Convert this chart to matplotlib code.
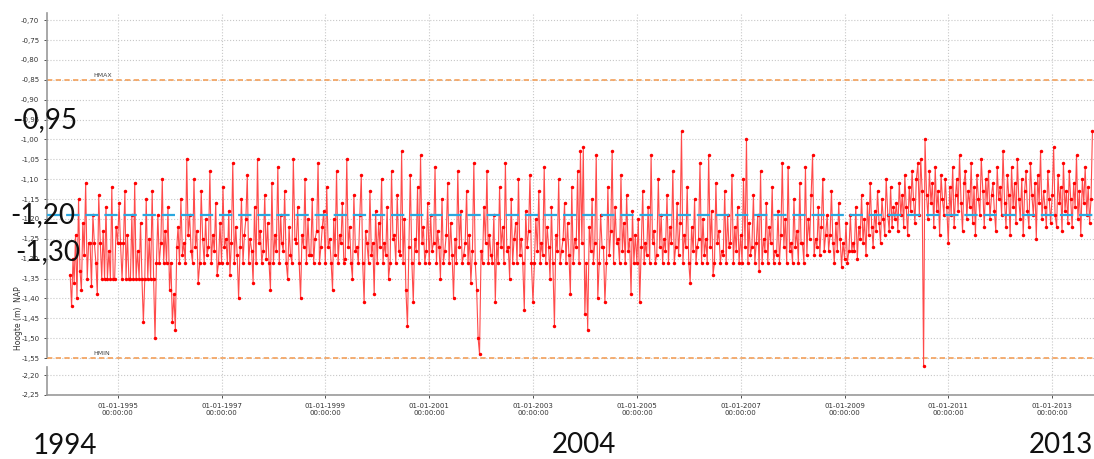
import numpy as np
import pandas as pd
import matplotlib
matplotlib.use("Agg")
import matplotlib.pyplot as plt

# waterstand (m NAP), op de 1e, 11e en 21e van elke maand, per jaar
h1994 = [-1.34, -1.42, -1.30, -1.36, -1.24, -1.40, -1.15, -1.33, -1.38, -1.21, -1.29, -1.11,
         -1.35, -1.26, -1.26, -1.37, -1.19, -1.26, -1.31, -1.39, -1.14, -1.26, -1.35, -1.23,
         -1.35, -1.17, -1.35, -1.28, -1.35, -1.12, -1.35, -1.35, -1.22]
h1995 = [-1.26, -1.16, -1.26, -1.35, -1.26, -1.13, -1.35, -1.24, -1.35, -1.35, -1.19, -1.35,
         -1.11, -1.35, -1.28, -1.35, -1.21, -1.35, -1.46, -1.35, -1.15, -1.35, -1.25, -1.35,
         -1.13, -1.35, -1.50, -1.31, -1.19, -1.31, -1.26, -1.10, -1.31, -1.23, -1.31, -1.17]
h1996 = [-1.38, -1.31, -1.46, -1.39, -1.48, -1.27, -1.22, -1.31, -1.15, -1.29, -1.26, -1.31,
         -1.05, -1.24, -1.19, -1.28, -1.31, -1.10, -1.27, -1.23, -1.36, -1.31, -1.13, -1.25,
         -1.31, -1.20, -1.29, -1.27, -1.08, -1.31, -1.24, -1.28, -1.16, -1.34, -1.31, -1.21]
h1997 = [-1.31, -1.12, -1.27, -1.25, -1.31, -1.18, -1.34, -1.26, -1.06, -1.31, -1.22, -1.29,
         -1.40, -1.27, -1.15, -1.31, -1.24, -1.20, -1.09, -1.31, -1.25, -1.28, -1.36, -1.17,
         -1.31, -1.05, -1.26, -1.23, -1.31, -1.28, -1.14, -1.30, -1.21, -1.31, -1.38, -1.11]
h1998 = [-1.31, -1.24, -1.28, -1.07, -1.31, -1.19, -1.26, -1.28, -1.13, -1.31, -1.35, -1.22,
         -1.29, -1.31, -1.05, -1.25, -1.26, -1.17, -1.31, -1.40, -1.24, -1.27, -1.10, -1.31,
         -1.20, -1.29, -1.29, -1.15, -1.31, -1.25, -1.23, -1.06, -1.31, -1.27, -1.22, -1.18]
h1999 = [-1.31, -1.12, -1.27, -1.25, -1.31, -1.38, -1.20, -1.29, -1.08, -1.31, -1.24, -1.26,
         -1.16, -1.31, -1.30, -1.05, -1.27, -1.22, -1.31, -1.35, -1.14, -1.28, -1.27, -1.31,
         -1.19, -1.09, -1.31, -1.41, -1.23, -1.26, -1.31, -1.13, -1.29, -1.26, -1.39, -1.18]
h2000 = [-1.31, -1.21, -1.27, -1.10, -1.31, -1.26, -1.29, -1.17, -1.35, -1.31, -1.08, -1.25,
         -1.24, -1.31, -1.14, -1.28, -1.29, -1.03, -1.31, -1.20, -1.38, -1.47, -1.27, -1.09,
         -1.31, -1.41, -1.25, -1.28, -1.12, -1.31, -1.04, -1.26, -1.22, -1.31, -1.28, -1.16]
h2001 = [-1.31, -1.19, -1.28, -1.26, -1.07, -1.31, -1.23, -1.27, -1.35, -1.15, -1.31, -1.28,
         -1.24, -1.11, -1.31, -1.21, -1.29, -1.40, -1.25, -1.31, -1.08, -1.27, -1.18, -1.31,
         -1.29, -1.26, -1.13, -1.31, -1.24, -1.36, -1.28, -1.06, -1.31, -1.38, -1.50, -1.54]
h2002 = [-1.28, -1.31, -1.17, -1.26, -1.08, -1.31, -1.24, -1.29, -1.31, -1.19, -1.41, -1.26,
         -1.31, -1.12, -1.27, -1.22, -1.31, -1.06, -1.28, -1.27, -1.35, -1.15, -1.31, -1.25,
         -1.21, -1.31, -1.10, -1.29, -1.25, -1.31, -1.43, -1.18, -1.27, -1.23, -1.09, -1.31]
h2003 = [-1.41, -1.31, -1.20, -1.28, -1.13, -1.31, -1.26, -1.29, -1.07, -1.31, -1.22, -1.27,
         -1.35, -1.17, -1.31, -1.47, -1.24, -1.28, -1.10, -1.31, -1.28, -1.25, -1.16, -1.31,
         -1.21, -1.29, -1.39, -1.12, -1.31, -1.25, -1.27, -1.08, -1.31, -1.03, -1.26, -1.02]
h2004 = [-1.44, -1.31, -1.48, -1.22, -1.28, -1.15, -1.31, -1.26, -1.04, -1.40, -1.31, -1.19,
         -1.27, -1.27, -1.41, -1.31, -1.12, -1.29, -1.23, -1.03, -1.31, -1.17, -1.26, -1.25,
         -1.31, -1.09, -1.28, -1.21, -1.31, -1.14, -1.28, -1.25, -1.39, -1.18, -1.31, -1.24]
h2005 = [-1.31, -1.20, -1.41, -1.27, -1.13, -1.31, -1.26, -1.29, -1.17, -1.31, -1.04, -1.26,
         -1.23, -1.31, -1.29, -1.10, -1.27, -1.19, -1.31, -1.25, -1.28, -1.14, -1.31, -1.22,
         -1.26, -1.08, -1.31, -1.27, -1.16, -1.29, -1.21, -0.98, -1.31, -1.24, -1.27, -1.12]
h2006 = [-1.31, -1.36, -1.22, -1.28, -1.15, -1.31, -1.27, -1.25, -1.06, -1.31, -1.20, -1.29,
         -1.25, -1.31, -1.04, -1.27, -1.18, -1.34, -1.31, -1.11, -1.26, -1.23, -1.31, -1.28,
         -1.29, -1.13, -1.31, -1.19, -1.27, -1.26, -1.09, -1.31, -1.22, -1.28, -1.17, -1.31]
h2007 = [-1.24, -1.31, -1.10, -1.27, -1.00, -1.31, -1.21, -1.29, -1.27, -1.14, -1.31, -1.26,
         -1.19, -1.33, -1.08, -1.31, -1.25, -1.28, -1.16, -1.31, -1.22, -1.26, -1.12, -1.31,
         -1.28, -1.29, -1.18, -1.31, -1.24, -1.06, -1.27, -1.20, -1.31, -1.07, -1.28, -1.26]
h2008 = [-1.31, -1.15, -1.27, -1.23, -1.31, -1.11, -1.26, -1.26, -1.31, -1.07, -1.29, -1.20,
         -1.25, -1.14, -1.04, -1.29, -1.25, -1.27, -1.17, -1.29, -1.22, -1.10, -1.28, -1.24,
         -1.19, -1.28, -1.24, -1.13, -1.26, -1.31, -1.21, -1.28, -1.16, -1.25, -1.32, -1.26]
h2009 = [-1.30, -1.21, -1.31, -1.28, -1.19, -1.28, -1.26, -1.28, -1.17, -1.30, -1.22, -1.25,
         -1.14, -1.26, -1.20, -1.29, -1.16, -1.24, -1.11, -1.22, -1.27, -1.18, -1.23, -1.13,
         -1.21, -1.26, -1.15, -1.20, -1.24, -1.10, -1.19, -1.23, -1.12, -1.22, -1.17, -1.20]
h2010 = [-1.16, -1.23, -1.11, -1.19, -1.14, -1.22, -1.09, -1.17, -1.24, -1.12, -1.18, -1.08,
         -1.15, -1.21, -1.10, -1.06, -1.19, -1.05, -1.13, -1.85, -1.00, -1.14, -1.20, -1.08,
         -1.16, -1.11, -1.22, -1.07, -1.18, -1.13, -1.24, -1.09, -1.15, -1.19, -1.10, -1.17]
h2011 = [-1.26, -1.12, -1.19, -1.07, -1.22, -1.14, -1.10, -1.18, -1.04, -1.16, -1.23, -1.11,
         -1.08, -1.20, -1.13, -1.17, -1.06, -1.21, -1.12, -1.24, -1.09, -1.15, -1.19, -1.05,
         -1.13, -1.22, -1.10, -1.16, -1.08, -1.20, -1.14, -1.11, -1.18, -1.23, -1.07, -1.15]
h2012 = [-1.12, -1.19, -1.03, -1.16, -1.22, -1.09, -1.14, -1.24, -1.07, -1.17, -1.11, -1.21,
         -1.05, -1.15, -1.20, -1.10, -1.24, -1.13, -1.08, -1.18, -1.22, -1.06, -1.14, -1.19,
         -1.11, -1.25, -1.09, -1.16, -1.03, -1.20, -1.13, -1.17, -1.22, -1.08, -1.15, -1.21]
h2013 = [-1.14, -1.02, -1.19, -1.22, -1.09, -1.16, -1.12, -1.23, -1.06, -1.18, -1.13, -1.21,
         -1.08, -1.15, -1.22, -1.11, -1.17, -1.04, -1.20, -1.13, -1.24, -1.10, -1.16, -1.07,
         -1.19, -1.12, -1.21, -1.15, -0.98]

hmax = -0.85
hmin = -1.55
streef = -1.19
yticks = [-0.70, -0.75, -0.80, -0.85, -0.90, -0.95, -1.00, -1.05, -1.10, -1.15, -1.20,
          -1.25, -1.30, -1.35, -1.40, -1.45, -1.50, -1.55, -2.20, -2.25]
xtick_years = [1995, 1997, 1999, 2001, 2003, 2005, 2007, 2009, 2011, 2013]
big_labels = ['-0,95', '-1,20', '-1,30']
year_labels = ['1994', '2004', '2013']

yearly = {1994: h1994, 1995: h1995, 1996: h1996, 1997: h1997, 1998: h1998, 1999: h1999,
          2000: h2000, 2001: h2001, 2002: h2002, 2003: h2003, 2004: h2004, 2005: h2005,
          2006: h2006, 2007: h2007, 2008: h2008, 2009: h2009, 2010: h2010, 2011: h2011,
          2012: h2012, 2013: h2013}
dates, levels = [], []
for yr, vals in yearly.items():
    days = [pd.Timestamp(yr, m, d) for m in range(1, 13) for d in (1, 11, 21)]
    if yr == 1994:
        days = days[-len(vals):]
    else:
        days = days[:len(vals)]
    dates.extend(days)
    levels.extend(vals)

# gebroken y-as: -2,25..-2,20 en -1,55..-0,70
brk_v = [-2.25, -2.20, -1.55, -0.60]
brk_p = [0.0, 1.0, 1.86, 20.86]
fwd = lambda y: np.interp(y, brk_v, brk_p)
bwd = lambda t: np.interp(t, brk_p, brk_v)

fig = plt.figure(figsize=(10.94, 4.59), dpi=100)
ax = fig.add_axes([47/1094, 1 - 395/459, 1 - 47/1094, (395 - 13)/459])
ax.set_yscale('function', functions=(fwd, bwd))
ax.set_ylim(-2.252, -0.682)
ax.set_xlim(pd.Timestamp('1993-08-22'), pd.Timestamp('2013-10-22'))

ax.plot(dates, levels, color='#ff4a4a', lw=0.8, zorder=3)
ax.plot(dates, levels, ls='none', marker='o', ms=2.5, color='#ff0000', mew=0, zorder=3)
ax.axhline(hmax, color='#f3a05a', lw=1.2, dashes=(3.2, 2), zorder=2)
ax.axhline(hmin, color='#f3a05a', lw=1.2, dashes=(3.2, 2), zorder=2)
ax.axhline(streef, color='#2aa8e0', lw=1.6, dashes=(6, 2.6), zorder=4)
ax.text(pd.Timestamp('1994-07-15'), hmax + 0.008, 'HMAX', fontsize=4.5, color='#444444')
ax.text(pd.Timestamp('1994-07-15'), hmin + 0.008, 'HMIN', fontsize=4.5, color='#444444')

ax.set_yticks(yticks)
ax.set_yticklabels([f'{v:.2f}'.replace('.', ',') for v in yticks])
ax.set_xticks([pd.Timestamp(f'{y}-01-01') for y in xtick_years])
ax.set_xticklabels([f'01-01-{y}\n00:00:00' for y in xtick_years])
ax.tick_params(labelsize=5, colors='#333333', length=2, width=0.6)
ax.grid(True, color='#c8c8c8', ls=':', lw=0.8)
ax.set_ylabel('Hoogte (m)  NAP', fontsize=5.5, color='#333333')
ax.yaxis.set_label_coords(-0.023, 0.2)

for s in ['top', 'right', 'left']:
    ax.spines[s].set_visible(False)
ax.spines['bottom'].set_color('#999999')
ax.spines['bottom'].set_linewidth(1.2)
# linker as met onderbreking
ax.plot([0, 0], [0.0, 0.072], transform=ax.transAxes, color='#999999', lw=1.2, clip_on=False)
ax.plot([0, 0], [0.1, 1.0], transform=ax.transAxes, color='#999999', lw=1.2, clip_on=False)

big = dict(fontsize=20, family=['Lato', 'DejaVu Sans'], va='center', color='#111111')
fig.text(12/1094, 1 - 120/459, big_labels[0], **big)
fig.text(10/1094, 1 - 215/459, big_labels[1], **big)
fig.text(15/1094, 1 - 252/459, big_labels[2], **big)
fig.text(33/1094, 1 - 446/459, year_labels[0], **big)
fig.text(552/1094, 1 - 445/459, year_labels[1], **big)
fig.text(1029/1094, 1 - 445/459, year_labels[2], **big)

fig.savefig('out.png', dpi=100)
